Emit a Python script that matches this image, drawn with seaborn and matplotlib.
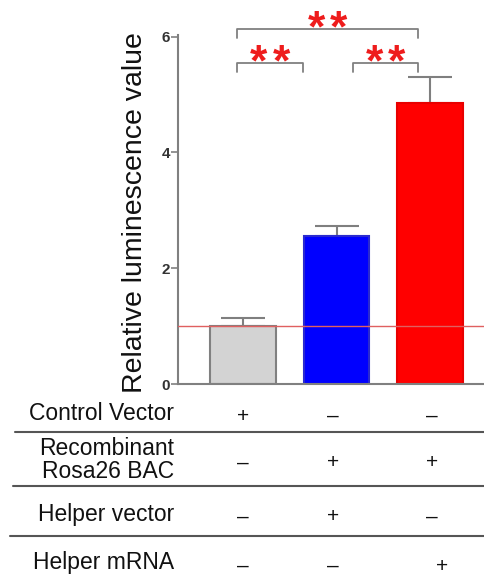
import matplotlib
matplotlib.use("Agg")
import matplotlib.pyplot as plt
import seaborn as sns
import pandas as pd

# data
groups = ["Control", "BAC + Helper vector", "BAC + Helper mRNA"]
means = [1.0, 2.56, 4.86]
errors = [0.15, 0.17, 0.44]
bar_colors = ["#d3d3d3", "#0000ff", "#ff0000"]
edge_colors = ["#808080", "#2a2ad0", "#e80000"]

row_labels = ["Control Vector", "Recombinant\nRosa26 BAC", "Helper vector", "Helper mRNA"]
row_signs = [
    ["+", "\u2013", "\u2013"],
    ["\u2013", "+", "+"],
    ["\u2013", "+", "\u2013"],
    ["\u2013", "\u2013", "+"],
]

# significance brackets: (x left, x right, bracket height, label)
brackets = [(-0.06, 1.87, 6.13, "**"), (-0.06, 0.64, 5.545, "**"), (1.18, 1.87, 5.545, "**")]

sns.set_theme(style="white")
plt.rcParams["font.family"] = ["Liberation Sans", "DejaVu Sans"]

df = pd.DataFrame({"group": groups, "value": means})

fig = plt.figure(figsize=(4.84, 5.83), dpi=100)
ax = fig.add_axes([0.368, 0.341, 0.632, 0.636])

sns.barplot(data=df, x="group", y="value", hue="group", palette=bar_colors,
            saturation=1, width=0.7, legend=False, ax=ax, errorbar=None, zorder=2)
for patch, ec in zip(ax.patches, edge_colors):
    patch.set_edgecolor(ec)
    patch.set_linewidth(1.5)

ax.errorbar(range(len(means)), means, yerr=[[0] * len(errors), errors],
            fmt="none", ecolor="#7f7f7f", elinewidth=1.5, capsize=16,
            capthick=1.5, zorder=1)

ax.axhline(1.0, color="#e06060", lw=1, zorder=3)

ax.set_ylim(0, 6.4)
ax.set_xlim(-0.695, 2.578)
ax.set_yticks([0, 2, 4, 6])
ax.set_xticks([])
ax.set_xlabel("")
ax.set_ylabel("Relative luminescence value", fontsize=20.5, color="#111111")
ax.yaxis.set_label_coords(-0.10, 0.464)
ax.tick_params(axis="y", left=True, length=5, width=1.2, color="#808080",
               labelsize=11, labelcolor="#333333", pad=1)
for lab in ax.get_yticklabels():
    lab.set_fontweight("bold")

for s in ["top", "right"]:
    ax.spines[s].set_visible(False)
ax.spines["left"].set_bounds(0, 6.02)
for s in ["left", "bottom"]:
    ax.spines[s].set_color("#808080")
    ax.spines[s].set_linewidth(1.5)

for x1, x2, h, txt in brackets:
    ax.plot([x1, x1, x2, x2], [h - 0.16, h, h, h - 0.16], color="#808080",
            lw=1.3, clip_on=False)
    mid = (x1 + x2) / 2
    # two separate stars, a little apart like the original
    for dx in (-0.12, 0.12):
        ax.text(mid + dx, h - 0.215, txt[0], ha="center", va="baseline",
                color="#ee1c1c", fontsize=32, fontweight="bold", clip_on=False)

# table under the chart
row_y = [413, 460, 514, 563]
line_y = [432, 486, 536]
line_x0 = [15, 13, 10]
W, H = 484, 583
xs = [243, 333, 432]
for r, (lab, signs) in enumerate(zip(row_labels, row_signs)):
    fig.text(174 / W, 1 - row_y[r] / H, lab, ha="right", va="center",
             fontsize=16.5, color="#111111", linespacing=1.05)
    for c, sgn in enumerate(signs):
        x = xs[c]
        if r == 3 and c == 2:
            x = 442
        fig.text(x / W, 1 - (row_y[r] + 3) / H, sgn, ha="center", va="center",
                 fontsize=15, color="#111111")
for ly, lx in zip(line_y, line_x0):
    fig.add_artist(plt.Line2D([lx / W, 1], [1 - ly / H, 1 - ly / H],
                              color="#555555", lw=1.5))

fig.savefig("out.png", dpi=100)
